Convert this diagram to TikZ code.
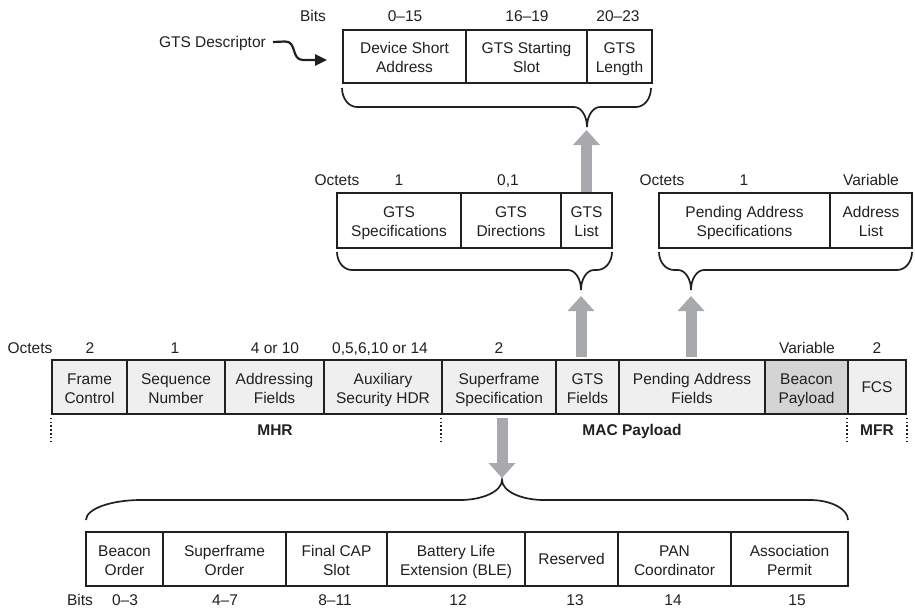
\documentclass[tikz,border=0pt]{standalone}
\usepackage{fontspec}
\setmainfont{Liberation Sans}
\usetikzlibrary{arrows.meta}
\definecolor{cellgray}{HTML}{EFEFEF}
\definecolor{paygray}{HTML}{D4D4D4}
\definecolor{arrgray}{HTML}{A7A9AC}
\definecolor{ink}{HTML}{231F20}
\newcommand\fs{\fontsize{15.5}{19}\selectfont\lineskiplimit=-100pt\relax}
\newcommand\cs{\rule[-4pt]{0pt}{21.6pt}}
\tikzset{
 cellbox/.style={draw=ink, line width=1.7pt, inner sep=0pt, align=center, font=\fs, text=ink},
 lbl/.style={inner sep=0pt, font=\fs, text=ink, text height=11.1pt, text depth=0pt},
 blbl/.style={lbl, font=\fs\bfseries},
 fat/.style={draw=arrgray, line width=11pt, line cap=butt, -{Triangle[width=26pt,length=15pt]}},
 bracepath/.style={draw=ink, line width=1.7pt},
 sep/.style={draw=ink, line width=2pt, dash pattern=on 1.6pt off 2.2pt},
 desc/.style={draw=ink, line width=2.2pt, -{Triangle[width=11pt,length=12pt]}},
}
% [fill] x1 y1 x2 y2 name text
\newcommand\cell[7][white]{\node[cellbox, fill=#1, minimum width={#4pt-#2pt}, minimum height={#5pt-#3pt}] (#6) at ({(#2+#4)/2},{(#3+#5)/2}) {#7};}
% L R ye yh T yt reL reR rt
\newcommand\curlyb[9]{\draw[bracepath] (#1,#3) .. controls (#1,{#3+0.552*(#4-#3)}) and ({#1+0.448*#7},#4) .. ({#1+#7},#4)
 -- ({#5-#9},#4) .. controls ({#5-0.448*#9},#4) and (#5,{#6-0.552*(#6-#4)}) .. (#5,#6)
 .. controls (#5,{#6-0.552*(#6-#4)}) and ({#5+0.448*#9},#4) .. ({#5+#9},#4)
 -- ({#2-#8},#4) .. controls ({#2-0.448*#8},#4) and (#2,{#3+0.552*(#4-#3)}) .. (#2,#3);}
\begin{document}
\begin{tikzpicture}[x=1pt,y=-1pt]
\useasboundingbox (0,0) rectangle (915,608);
% ---------- GTS descriptor ----------
\node[lbl] (tb0) at (313,16) {Bits};
\node[lbl] (tb1) at (405,16) {0--15};
\node[lbl] (tb2) at (527,16) {16--19};
\node[lbl] (tb3) at (618,16) {20--23};
\cell{343}{30}{466}{83}{dsa}{\cs Device Short\\\cs Address}
\cell{466}{30}{587}{83}{gss}{\cs GTS Starting\\\cs Slot}
\cell{587}{30}{652}{83}{gln}{\cs GTS\\\cs Length}
\curlyb{342}{651}{88}{107}{587}{127}{15}{15}{13}
\node[lbl, anchor=east] (gd) at (266,42) {GTS Descriptor};
\coordinate (dtip) at ([xshift=-15pt,yshift=-3.5pt]dsa.west);
\draw[desc] ([xshift=7pt]gd.east) -- (285,41.5) .. controls (297,41) and (291,60) .. (303,60) -- (dtip);
% ---------- GTS fields ----------
\node[lbl] (go0) at (337,180) {Octets};
\node[lbl] (go1) at (399,180) {1};
\node[lbl] (go2) at (508,180) {0,1};
\cell{337}{193}{461}{248}{gspec}{\cs GTS\\\cs Specifications}
\cell{461}{193}{561}{248}{gdir}{\cs GTS\\\cs Directions}
\cell{561}{193}{612}{248}{glist}{\cs GTS\\\cs List}
\curlyb{337}{612}{252}{270}{581}{290}{15}{15}{13}
% ---------- Pending address fields ----------
\node[lbl] (po0) at (662,180) {Octets};
\node[lbl] (po1) at (744,180) {1};
\node[lbl] (po2) at (871,180) {Variable};
\cell{659}{193}{830}{248}{pas}{\cs Pending Address\\\cs Specifications}
\cell{830}{193}{912}{248}{alist}{\cs Address\\\cs List}
\curlyb{659}{912}{252}{270}{691}{290}{15}{15}{13}
% ---------- Main frame ----------
\node[lbl] (mo0) at (30,348) {Octets};
\node[lbl] (mo1) at (90,348) {2};
\node[lbl] (mo2) at (175,348) {1};
\node[lbl] (mo3) at (275,348) {4 or 10};
\node[lbl] (mo4) at (380,348) {0,5,6,10 or 14};
\node[lbl] (mo5) at (499,348) {2};
\node[lbl] (mo6) at (807,348) {Variable};
\node[lbl] (mo7) at (877,348) {2};
\cell[cellgray]{52}{360}{127}{414}{fc}{\cs Frame\\\cs Control}
\cell[cellgray]{127}{360}{225}{414}{sn}{\cs Sequence\\\cs Number}
\cell[cellgray]{225}{360}{324}{414}{af}{\cs Addressing\\\cs Fields}
\cell[cellgray]{324}{360}{442}{414}{ash}{\cs Auxiliary\\\cs Security HDR}
\cell[cellgray]{442}{360}{556}{414}{ss}{\cs Superframe\\\cs Specification}
\cell[cellgray]{556}{360}{619}{414}{gf}{\cs GTS\\\cs Fields}
\cell[cellgray]{619}{360}{765}{414}{paf}{\cs Pending Address\\\cs Fields}
\cell[paygray]{765}{360}{848}{414}{bp}{\cs Beacon\\\cs Payload}
\cell[cellgray]{848}{360}{906}{414}{fcs}{FCS}
\draw[sep] ([yshift=-3pt]fc.south west) -- ++(0,23);
\draw[sep] ([yshift=-3pt]ss.south west) -- ++(0,23);
\draw[sep] ([yshift=-3pt]fcs.south west) -- ++(0,23);
\draw[sep] ([yshift=-3pt]fcs.south east) -- ++(0,23);
\node[blbl] (mhr) at (275,430) {MHR};
\node[blbl] (macp) at (632,430) {MAC Payload};
\node[blbl] (mfr) at (877,430) {MFR};
% ---------- Superframe specification ----------
\curlyb{86}{848}{520}{500}{502}{480}{55}{38}{42}
\cell{86}{532}{163}{586}{bo}{\cs Beacon\\\cs Order}
\cell{163}{532}{286}{586}{so}{\cs Superframe\\\cs Order}
\cell{286}{532}{387}{586}{fcap}{\cs Final CAP\\\cs Slot}
\cell{387}{532}{525}{586}{ble}{\cs Battery Life\\\cs Extension (BLE)}
\cell{525}{532}{618}{586}{res}{Reserved}
\cell{618}{532}{731}{586}{pan}{\cs PAN\\\cs Coordinator}
\cell{731}{532}{848}{586}{ap}{\cs Association\\\cs Permit}
\node[lbl] (bb0) at (80,600) {Bits};
\node[lbl] (bb1) at (125,600) {0--3};
\node[lbl] (bb2) at (225,600) {4--7};
\node[lbl] (bb3) at (335,600) {8--11};
\node[lbl] (bb4) at (458,600) {12};
\node[lbl] (bb5) at (575,600) {13};
\node[lbl] (bb6) at (673,600) {14};
\node[lbl] (bb7) at (797,600) {15};
% ---------- fat arrows ----------
\coordinate (tipA) at (586.5,130);
\coordinate (tipB) at (581,296);
\coordinate (tipC) at (691,296);
\coordinate (tipD) at (502,478);
\draw[fat] (glist.north) -- (tipA);
\draw[fat, shorten <=2pt] (gf.north -| tipB) -- (tipB);
\draw[fat, shorten <=2pt] (paf.north -| tipC) -- (tipC);
\draw[fat, shorten <=3pt] (ss.south -| tipD) -- (tipD);
\end{tikzpicture}
\end{document}
